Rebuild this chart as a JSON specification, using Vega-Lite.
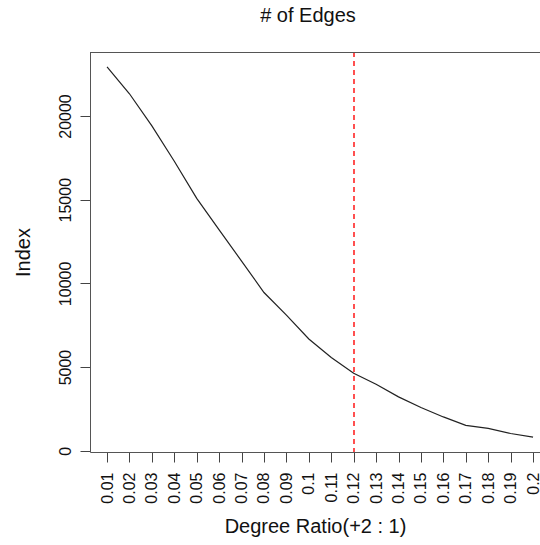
{
  "$schema": "https://vega.github.io/schema/vega-lite/v6.json",
  "width": 450,
  "height": 400,
  "autosize": {"type": "none"},
  "padding": {"left": 90, "top": 52, "right": 0, "bottom": 93},
  "background": "white",
  "config": {
    "view": {"stroke": null},
    "font": "Liberation Sans",
    "axisX": {
      "labelAngle": 270, "labelFontSize": 16, "labelColor": "#111", "labelPadding": 10,
      "labelOverlap": false, "labelFlush": false, "labelBound": false,
      "tickSize": 10, "tickColor": "#444", "domainColor": "#555", "grid": false,
      "titleFontSize": 20, "titleFontWeight": "normal", "titleColor": "#111", "titlePadding": 13
    },
    "axisY": {
      "labelAngle": 270, "labelAlign": "center", "labelBaseline": "bottom",
      "labelFontSize": 16, "labelColor": "#111", "labelPadding": 7,
      "labelOverlap": false,
      "tickSize": 10, "tickColor": "#444", "domainColor": "#555", "grid": false,
      "titleFontSize": 20, "titleFontWeight": "normal", "titleColor": "#111", "titlePadding": 24
    }
  },
  "title": {"text": "# of Edges", "font": "Liberation Sans", "fontSize": 20, "fontWeight": "normal", "color": "#111", "anchor": "middle", "dx": -7, "baseline": "alphabetic", "offset": 10},
  "data": {"values": [
    {"ratio": 0.01, "edges": 22940},
    {"ratio": 0.02, "edges": 21330},
    {"ratio": 0.03, "edges": 19410},
    {"ratio": 0.04, "edges": 17300},
    {"ratio": 0.05, "edges": 15080},
    {"ratio": 0.06, "edges": 13200},
    {"ratio": 0.07, "edges": 11330},
    {"ratio": 0.08, "edges": 9455},
    {"ratio": 0.09, "edges": 8100},
    {"ratio": 0.10, "edges": 6680},
    {"ratio": 0.11, "edges": 5570},
    {"ratio": 0.12, "edges": 4630},
    {"ratio": 0.13, "edges": 3970},
    {"ratio": 0.14, "edges": 3220},
    {"ratio": 0.15, "edges": 2580},
    {"ratio": 0.16, "edges": 2020},
    {"ratio": 0.17, "edges": 1520},
    {"ratio": 0.18, "edges": 1340},
    {"ratio": 0.19, "edges": 1030},
    {"ratio": 0.20, "edges": 810}
  ]},
  "layer": [
    {
      "mark": {"type": "line", "color": "#222", "strokeWidth": 1.2},
      "encoding": {
        "x": {"field": "ratio", "type": "quantitative",
          "scale": {"domain": [0.0024, 0.2031], "nice": false, "zero": false},
          "axis": {
            "values": [0.01,0.02,0.03,0.04,0.05,0.06,0.07,0.08,0.09,0.1,0.11,0.12,0.13,0.14,0.15,0.16,0.17,0.18,0.19,0.2],
            "tickCount": 40,
            "labelExpr": "format(datum.value, '~g')",
            "labelOverlap": false,
            "title": "Degree Ratio(+2 : 1)"
          }},
        "y": {"field": "edges", "type": "quantitative",
          "scale": {"domain": [-75, 23825], "nice": false, "zero": false},
          "axis": {
            "values": [0, 5000, 10000, 15000, 20000],
            "tickCount": 10,
            "format": "d",
            "title": "Index"
          }}
      }
    },
    {
      "mark": {"type": "rule", "color": "#ff5050", "strokeDash": [5, 4], "strokeWidth": 0.9},
      "encoding": {"x": {"datum": 0.12}}
    },
    {
      "mark": {"type": "rule", "color": "#555", "strokeWidth": 1},
      "encoding": {"y": {"datum": 23795}}
    }
  ]
}
